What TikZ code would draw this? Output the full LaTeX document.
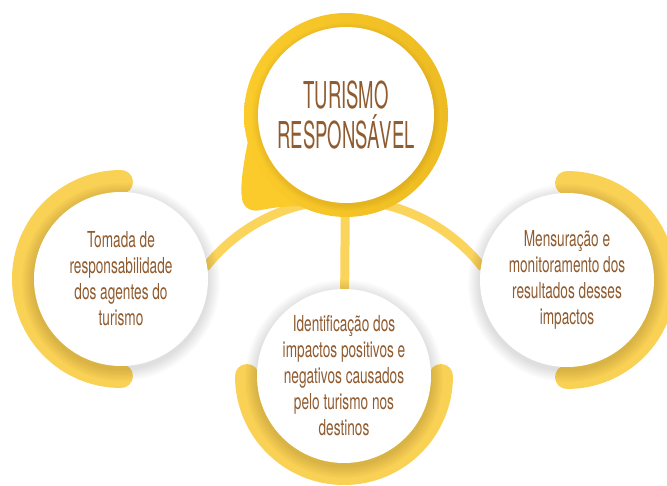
\documentclass[tikz,border=0pt]{standalone}
\usepackage{fontspec}
\setmainfont{TeX Gyre Heros}[FakeStretch=0.62]
\newfontfamily\titlefont{TeX Gyre Heros}[FakeStretch=0.5]
\usetikzlibrary{positioning}
\definecolor{ringLight}{HTML}{FBCB2B}
\definecolor{ringDark}{HTML}{EDBC22}
\definecolor{arcYellow}{HTML}{F9D155}
\definecolor{linkYellow}{HTML}{FBD55B}
\definecolor{textBrown}{HTML}{8F5B2F}
\pgfdeclarelayer{back}
\pgfdeclarelayer{middle}
\pgfsetlayers{back,middle,main}
\tikzset{
	bubble/.style   = {circle, fill=white, inner sep=0pt,
		minimum size = 174pt,
		align=center, text=textBrown,
		font=\fontsize{22}{26}\selectfont},
	hub/.style      = {circle, fill=white, inner sep=0pt,
		minimum size = 176pt,
		align=center, text=textBrown,
		font=\titlefont\fontsize{37}{40}\selectfont},
	link/.style     = {draw=linkYellow, line width=9pt},
	halfring/.style = {draw=arcYellow, line width=24pt, line cap=round},
}

\begin{document}
\begin{tikzpicture}[ x=1pt, y=1pt          %<--one unit is one pixel of the layout
                   ]
    \useasboundingbox (0,0) rectangle (667,485);

    %-- Circles creation --%
    \draw
      % CENTRE %
      node(hubC) at (346,370) [hub] {TURISMO\\RESPONSÁVEL}
      % SIDES %
      node(leftC) at (121,206) [bubble] {Tomada de\\responsabilidade\\dos agentes do\\turismo}
      node(rightC) at (567,205) [bubble] {Mensuração e\\monitoramento dos\\resultados desses\\impactos}
      node(bottomC) at (344,109) [bubble] {Identificação dos\\impactos positivos e\\negativos causados\\pelo turismo nos\\destinos}
    ;

    %-- Circle linking --%
    \begin{pgfonlayer}{back}
      \draw[link] (bottomC.center) ++(142:176pt) arc[start angle=142, end angle=38, radius=176pt];
      \draw[link] (hubC.center) -- (bottomC.center);
    \end{pgfonlayer}

    %-- Rings --%
    \begin{pgfonlayer}{middle}
      % CENTRE RING WITH TAIL %
      \begin{scope}[shift={(hubC.center)}]
        \fill[ringLight] (-98,-26) .. controls (-103,-51) and (-106,-71) .. (-104,-84)
                                .. controls (-102,-94) and (-94,-97) .. (-85,-95)
                                .. controls (-71,-92) and (-56,-91) .. (-41,-91)
                                -- (0,0) -- cycle;
      \end{scope}
      \shade[left color=ringLight, right color=ringDark] (hubC.center) circle (102pt);
      % HALF RINGS %
      \draw[halfring] (leftC.center) ++(90:97pt) arc[start angle=90, end angle=270, radius=97pt];
      \draw[halfring] (rightC.center) ++(90:97pt) arc[start angle=90, end angle=-90, radius=97pt];
      \draw[halfring] (bottomC.center) ++(180:97pt) arc[start angle=180, end angle=360, radius=97pt];
      % SOFT SHADOWS %
      \foreach \c in {leftC, rightC, bottomC}
        \foreach \k in {1,...,8}
          \fill[black, opacity=0.014] (\c.center) ++(0,-3) circle (87pt+1.5pt*\k);
      \foreach \k in {1,...,5}
        \fill[black, opacity=0.012] (hubC.center) ++(0,-2) circle (88pt+1.2pt*\k);
    \end{pgfonlayer}

\end{tikzpicture}
\end{document}
